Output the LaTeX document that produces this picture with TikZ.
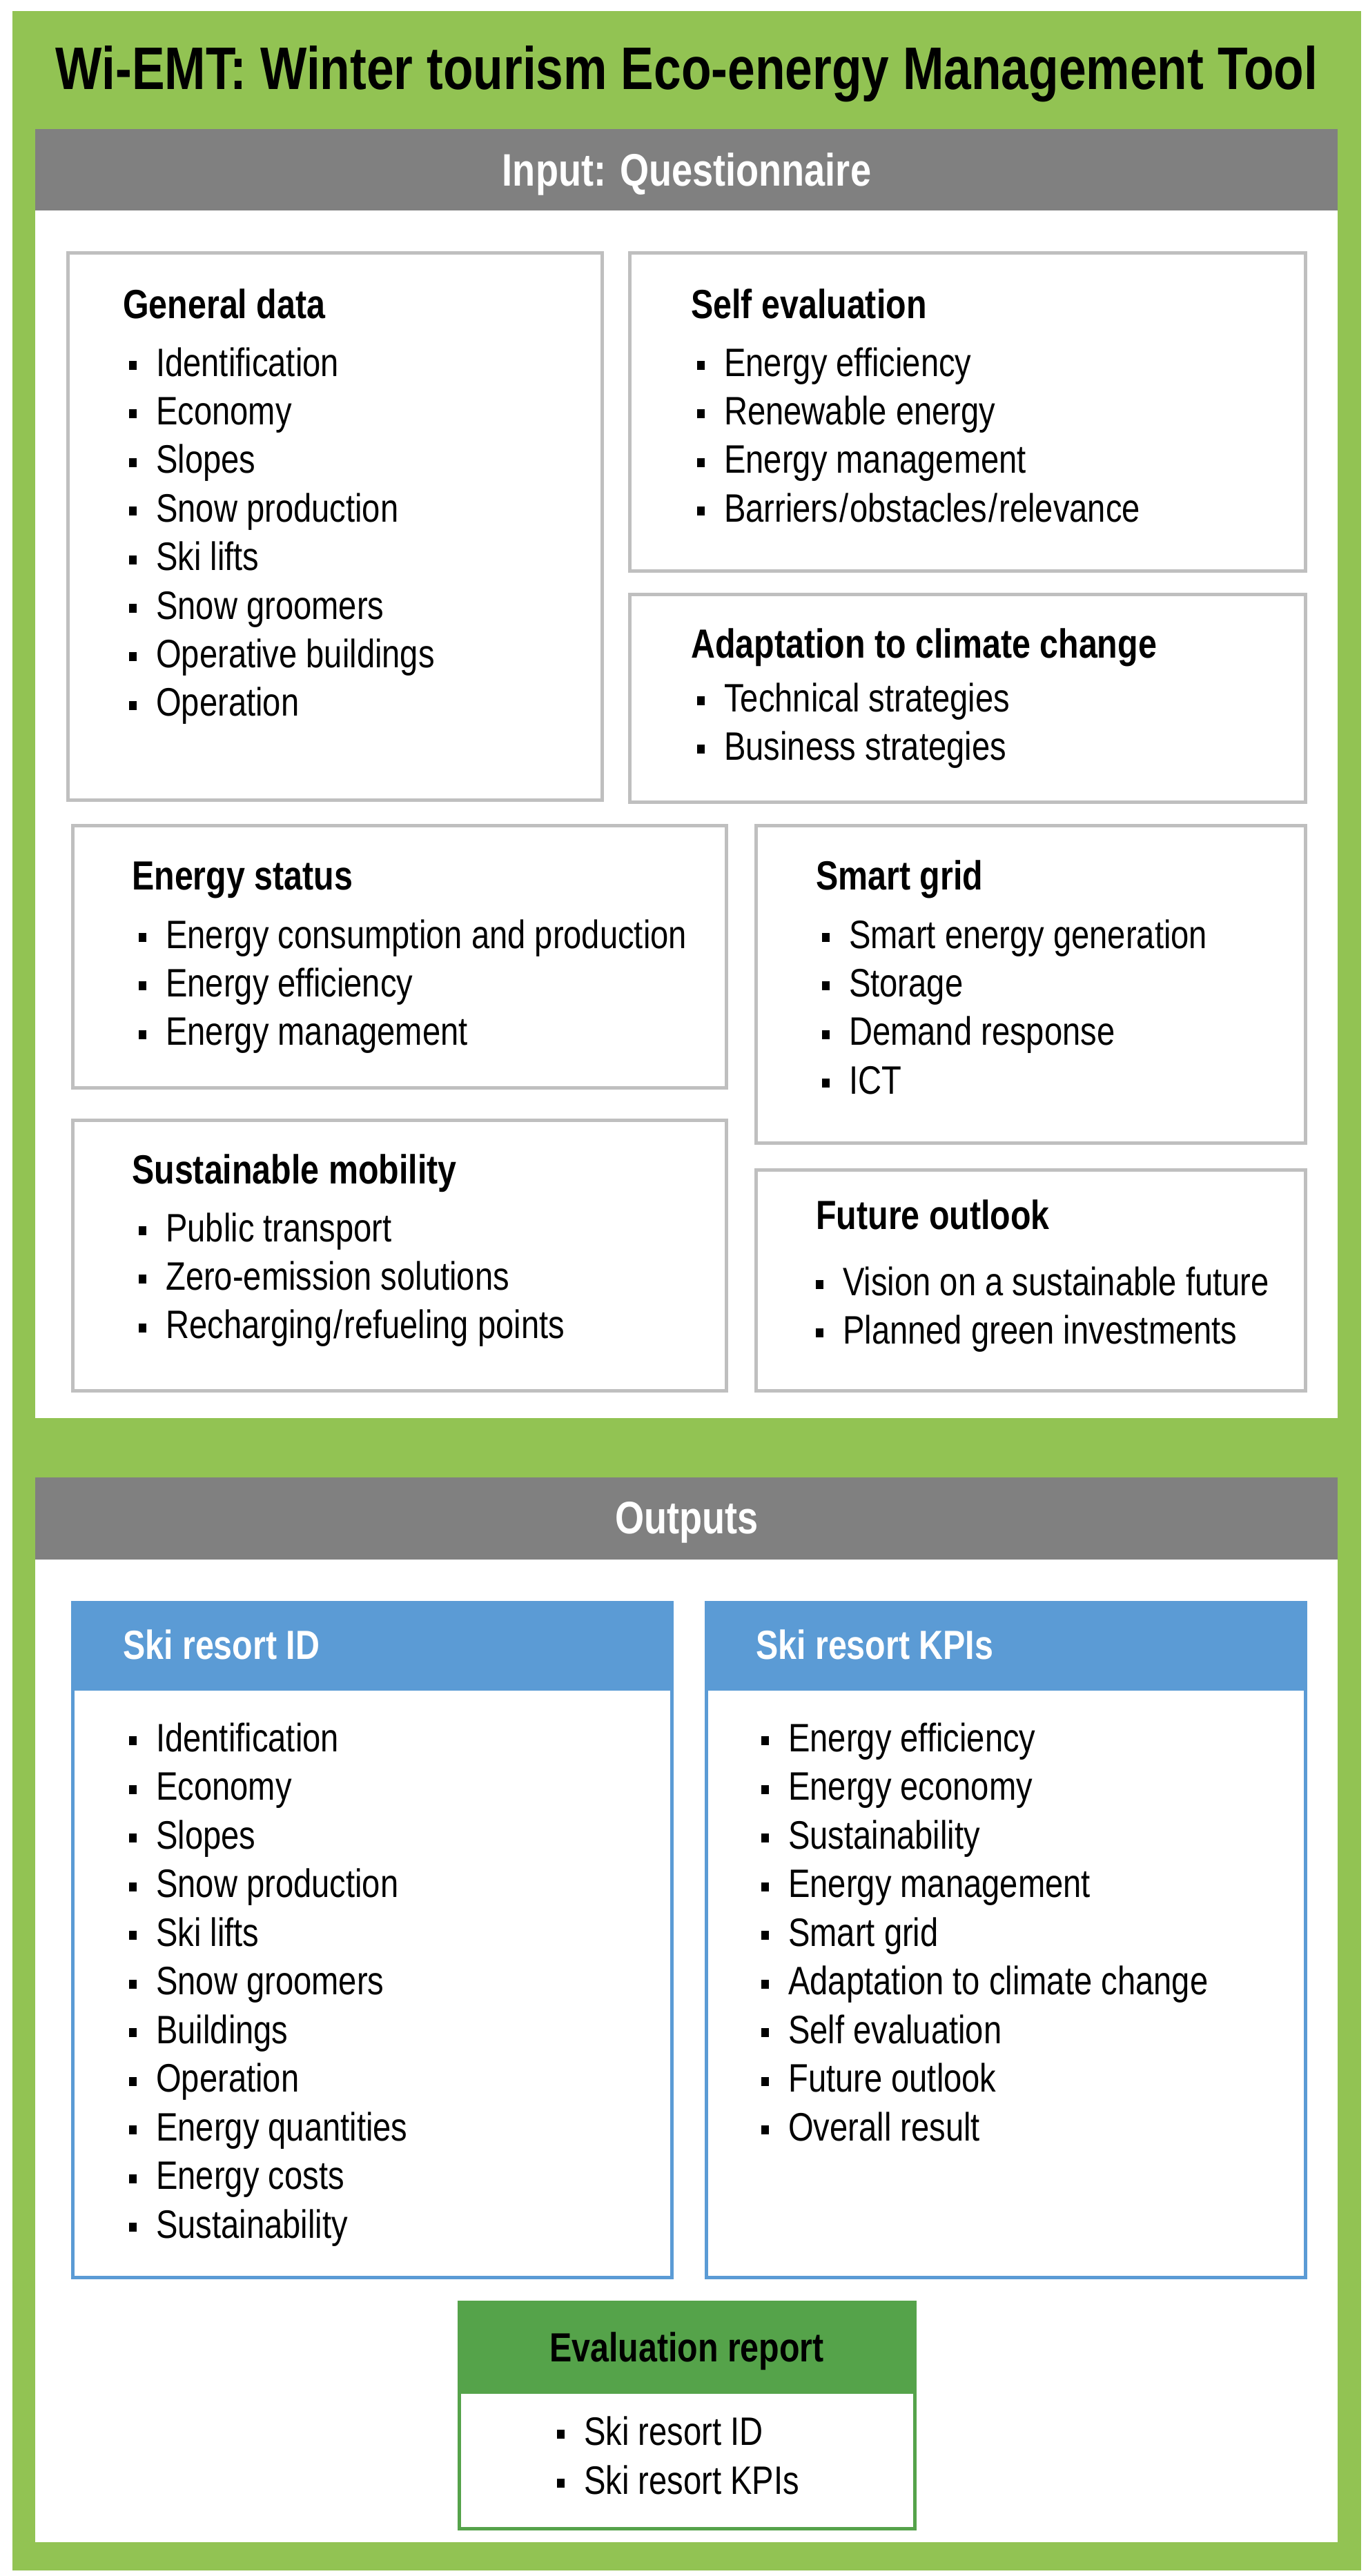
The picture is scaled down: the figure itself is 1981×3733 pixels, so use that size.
\documentclass[tikz,border=0pt]{standalone}
\usepackage{fontspec}
\setmainfont{Liberation Sans}[FakeStretch=0.82]
\definecolor{frameg}{HTML}{92C353}
\definecolor{headg}{HTML}{808080}
\definecolor{boxg}{HTML}{BFBFBF}
\definecolor{blueh}{HTML}{5B9BD5}
\definecolor{greenh}{HTML}{55A34A}
\tikzset{
 box/.style={draw=boxg,line width=5pt,fill=white},
 bbox/.style={draw=blueh,line width=5pt,fill=white},
 gbox/.style={draw=greenh,line width=5pt,fill=white},
 itemtxt/.style={anchor=base west,inner sep=0pt,font=\fontsize{57.5}{70}\selectfont},
 ttl/.style={anchor=base west,inner sep=0pt,font=\fontsize{59}{70}\selectfont\bfseries},
}
\newcommand\bul{\makebox[39pt][l]{\rule[9pt]{11pt}{13pt}}}
\newcommand\itemlist[5]{\foreach \t [count=\i from 0] in {#5} {\node[itemtxt] (#1-\i) at (#2, {#3+#4*\i}) {\bul\t};}}
\begin{document}
\begin{tikzpicture}[x=1pt,y=-1pt]
\useasboundingbox (0,0) rectangle (1981,3733);
\fill[frameg] (18,16) rectangle (1972,3725);
\node[anchor=base,inner sep=0pt,font=\fontsize{87}{90}\selectfont\bfseries] (title) at (995,130) {Wi-EMT: Winter tourism Eco-energy Management Tool};
% input panel
\fill[white] (51,187) rectangle (1938,2055);
\fill[headg] (51,187) rectangle (1938,305);
\node[anchor=base,inner sep=0pt,text=white,font=\fontsize{66}{70}\selectfont\bfseries] (inhead) at (995,270) {Input: Questionnaire};
\draw[box] (98,366) rectangle (872,1159);
\draw[box] (912,366) rectangle (1891,827);
\draw[box] (912,861) rectangle (1891,1162);
\draw[box] (105,1196) rectangle (1052,1576);
\draw[box] (1095,1196) rectangle (1891,1656);
\draw[box] (105,1623) rectangle (1052,2015);
\draw[box] (1095,1695) rectangle (1891,2015);
\node[ttl] (t1) at (178,461) {General data};
\itemlist{gd}{187}{545}{70.4}{Identification,Economy,Slopes,Snow production,Ski lifts,Snow groomers,Operative buildings,Operation}
\node[ttl] (t2) at (1001,461) {Self evaluation};
\itemlist{se}{1010}{545}{70.4}{Energy efficiency,Renewable energy,Energy management,Barriers\kern2pt/\kern2pt obstacles\kern2pt/\kern2pt relevance}
\node[ttl] (t3) at (1001,953) {Adaptation to climate change};
\itemlist{ad}{1010}{1031}{70.4}{Technical strategies,Business strategies}
\node[ttl] (t4) at (191,1289) {Energy status};
\itemlist{es}{201}{1374}{70.4}{Energy consumption and production,Energy efficiency,Energy management}
\node[ttl] (t5) at (1182,1289) {Smart grid};
\itemlist{sg}{1191}{1374}{70.4}{Smart energy generation,Storage,Demand response,ICT}
\node[ttl] (t6) at (191,1715) {Sustainable mobility};
\itemlist{sm}{201}{1799}{70.4}{Public transport,Zero-emission solutions,Recharging\kern2pt/\kern2pt refueling points}
\node[ttl] (t7) at (1182,1781) {Future outlook};
\itemlist{fo}{1182}{1877}{70.4}{Vision on a sustainable future,Planned green investments}
% outputs panel
\fill[white] (51,2141) rectangle (1938,3684);
\fill[headg] (51,2141) rectangle (1938,2260);
\node[anchor=base,inner sep=0pt,text=white,font=\fontsize{66}{70}\selectfont\bfseries] (outhead) at (995,2222) {Outputs};
\draw[bbox] (105,2322) rectangle (973,3300);
\fill[blueh] (103,2320) rectangle (975,2450);
\draw[bbox] (1023,2322) rectangle (1891,3300);
\fill[blueh] (1021,2320) rectangle (1893,2450);
\node[ttl,text=white] (t8) at (178,2404) {Ski resort ID};
\node[ttl,text=white] (t9) at (1095,2404) {Ski resort KPIs};
\itemlist{id}{187}{2538}{70.5}{Identification,Economy,Slopes,Snow production,Ski lifts,Snow groomers,Buildings,Operation,Energy quantities,Energy costs,Sustainability}
\itemlist{kp}{1103}{2538}{70.5}{Energy efficiency,Energy economy,Sustainability,Energy management,Smart grid,Adaptation to climate change,Self evaluation,Future outlook,Overall result}
\draw[gbox] (665,3336) rectangle (1325,3664);
\fill[greenh] (663,3334) rectangle (1327,3469);
\node[anchor=base,inner sep=0pt,font=\fontsize{59}{70}\selectfont\bfseries] (t10) at (995,3422) {Evaluation report};
\itemlist{er}{807}{3543}{71}{Ski resort ID,Ski resort KPIs}
\end{tikzpicture}
\end{document}
